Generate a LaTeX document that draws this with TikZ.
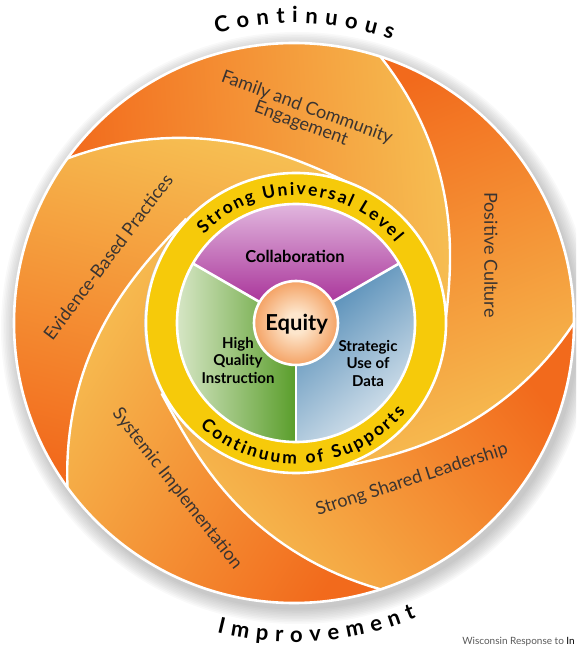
\documentclass[tikz,border=0pt]{standalone}
\usepackage{fontspec}
\setmainfont{Lato}
\usetikzlibrary{decorations.text}

\definecolor{bladedark}{HTML}{F26A1C}
\definecolor{bladelight}{HTML}{F6BE52}
\definecolor{ringgold}{HTML}{F6CA0A}
\definecolor{collabtop}{HTML}{EBCDEA}
\definecolor{collabbase}{HTML}{9E1A8C}
\definecolor{datalight}{HTML}{DDE7EF}
\definecolor{datadark}{HTML}{4A86B3}
\definecolor{instrlight}{HTML}{E8F0DB}
\definecolor{instrdark}{HTML}{5A9E2B}
\definecolor{equitylight}{HTML}{FDE6CC}
\definecolor{equityorange}{HTML}{EE741E}
\definecolor{labelgray}{HTML}{3A3431}

\pgfdeclareradialshading{equityglow}{\pgfpointorigin}{color(0bp)=(equitylight); color(6bp)=(equitylight); color(38bp)=(equityorange); color(50bp)=(equityorange)}

\newcommand\bladefont{\fontsize{18}{17}\selectfont}
\newcommand\corefont{\bfseries\fontsize{15}{17.5}\selectfont}
\newcommand\ringfont{\bfseries\fontsize{17.5}{17.5}\selectfont}
\newcommand\wordfont{\bfseries\fontsize{22}{22}\selectfont}

\begin{document}
\begin{tikzpicture}[x=1pt,y=1pt,
  sepline/.style={white,line width=2.4pt},
  rim/.style={white,line width=2.6pt},
  bladelabel/.style={text=labelgray,font=\bladefont,inner sep=0pt,align=center},
  corelabel/.style={text=black,font=\corefont,inner sep=0pt,align=center}]
\useasboundingbox (-294,-324) rectangle (282,323);
\clip (-294,-324) rectangle (282,323);

% soft shadow under the disc
\foreach \i in {1,...,10}
  \fill[black,opacity=0.025] (3,-5) circle[radius=280+1.6*\i];

% five swirling blades
\foreach \a [evaluate=\a as \sa using \a-230] in {144,72,0,-72,-144}
  \shade[top color=bladelight,bottom color=bladedark,shading angle=\sa]
    (\a:280) arc[start angle=\a,end angle=\a-72,radius=280]
    -- plot[domain=0:80,samples=40,variable=\t] ({\a-72-\t}:{150+130*(1-\t/80)^2})
    arc[start angle=\a-152,end angle=\a-80,radius=150]
    -- plot[domain=80:0,samples=40,variable=\t] ({\a-\t}:{150+130*(1-\t/80)^2})
    -- cycle;
\foreach \a in {144,72,0,-72,-144}
  \draw[sepline] plot[domain=0:80,samples=40,variable=\t] ({\a-\t}:{150+130*(1-\t/80)^2});
\draw[rim] (0,0) circle[radius=280];

% ring and the three pie parts
\begin{scope}[shift={(2,0)}]
\fill[ringgold] (0,0) circle[radius=150];
\draw[rim] (0,0) circle[radius=150];
\shade[top color=collabtop,bottom color=collabbase]
  (0,0) -- (30:119) arc[start angle=30,end angle=150,radius=119] -- cycle;
\shade[top color=datalight,bottom color=datadark,shading angle=-140]
  (0,0) -- (-90:119) arc[start angle=-90,end angle=30,radius=119] -- cycle;
\shade[top color=instrlight,bottom color=instrdark,shading angle=90]
  (0,0) -- (150:119) arc[start angle=150,end angle=270,radius=119] -- cycle;
\draw[rim] (0,0) circle[radius=119];
\foreach \b in {30,150,270}
  \draw[rim] (0,0) -- (\b:119);
\shade[shading=equityglow] (0,0) circle[radius=42];
\draw[rim] (0,0) circle[radius=42];

\path[decorate,decoration={text along path,text align={fit to path},
  text={|\ringfont|Strong Universal Level}}]
  (136:128) arc[start angle=136,end angle=39,radius=128];
\path[decorate,decoration={text along path,text align={fit to path},
  text={|\ringfont|Continuum of Supports}}]
  (227:141) arc[start angle=227,end angle=321,radius=141];

\node[corelabel,font=\bfseries\fontsize{16.5}{18}\selectfont] (collab) at (-1,67) {Collaboration};
\node[corelabel,font=\bfseries\fontsize{22}{22}\selectfont] (equity) at (0.7,-1) {Equity};
\node[corelabel] (instr) at (-58,-37) {High\\Quality\\Instruction};
\node[corelabel] (data) at (72,-40) {Strategic\\Use of\\Data};
\end{scope}

% blade labels
\node[bladelabel,rotate=-20] (family) at (10,207) {Family and Community\\Engagement};
\node[bladelabel,rotate=-90] (culture) at (197,68) {Positive Culture};
\node[bladelabel,rotate=18] (leader) at (118,-157) {Strong Shared Leadership};
\node[bladelabel,rotate=-52] (system) at (-117,-166) {Systemic Implementation};
\node[bladelabel,rotate=53] (evidence) at (-186,66) {Evidence-Based Practices};

% words round the outside
\path[decorate,decoration={text along path,text align={fit to path},
  text={|\wordfont|Continuous}}]
  (105:300) arc[start angle=105,end angle=71,radius=300];
\path[decorate,decoration={text along path,text align={fit to path},
  text={|\wordfont|Improvement}}]
  (256:319) arc[start angle=256,end angle=292.5,radius=319];

\node[anchor=base east,inner sep=0pt,text=black!65,font=\fontsize{10}{12}\selectfont]
  (source) at (281,-321) {Wisconsin Response to \textcolor{black}{In}};
\end{tikzpicture}
\end{document}
